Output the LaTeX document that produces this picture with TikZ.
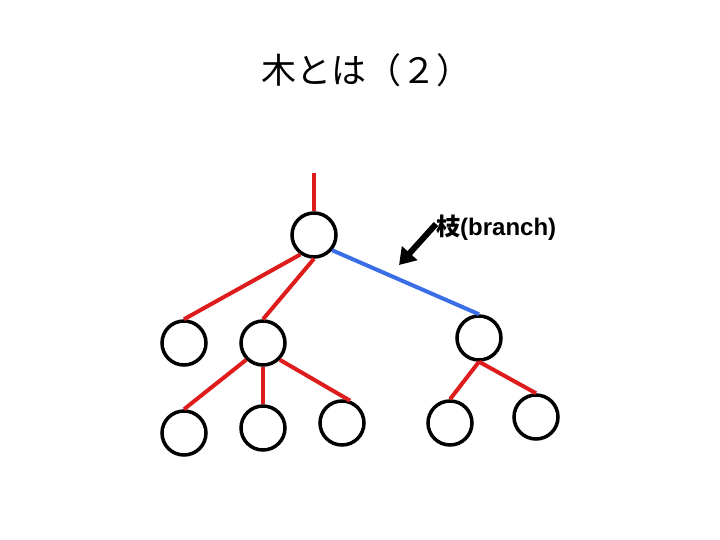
\documentclass[tikz,border=0pt]{standalone}
\usepackage{fontspec}
\setmainfont{Liberation Sans}
\newfontfamily\jpfont{Noto Sans CJK JP}
\usetikzlibrary{arrows.meta}
\definecolor{edgered}{RGB}{222,28,28}
\definecolor{edgeblue}{RGB}{58,110,230}
\tikzset{
  vert/.style={circle,draw=black,line width=3.5pt,minimum size=44pt,inner sep=0pt},
  edge/.style={draw=edgered,line width=4pt},
  blueedge/.style={draw=edgeblue,line width=4pt}
}
\begin{document}
\begin{tikzpicture}[x=1pt,y=-1pt]
\useasboundingbox (0,0) rectangle (720,540);
\node (title) at (366,70) {\jpfont\fontsize{35}{40}\selectfont 木とは（２）};
\node[vert] (root) at (314,235) {};
\node[vert] (a) at (184,343) {};
\node[vert] (b) at (263,343) {};
\node[vert] (c) at (479,338) {};
\node[vert] (d) at (184,433) {};
\node[vert] (e) at (263,428) {};
\node[vert] (f) at (342,423) {};
\node[vert] (g) at (450,423) {};
\node[vert] (h) at (536,417) {};
\coordinate (top) at (314,173);
\draw[edge] (top) -- (root.north);
\draw[edge] (root.-125) -- (a.north);
\draw[edge] (root.south) -- (b.north);
\draw[blueedge] (root.-40) -- (c.north);
\draw[edge] (b.-135) -- (d.north);
\draw[edge] (b.south) -- (e.north);
\draw[edge] (b.-45) -- (f.70);
\draw[edge] (c.south) -- (g.north);
\draw[edge] (c.south) -- (h.north);
\node[anchor=west,font=\bfseries\fontsize{24}{28}\selectfont,inner sep=0pt] (lbl) at (436,228) {{\jpfont 枝}(branch)};
\coordinate (tip) at (399,265);
\draw[line width=6pt,-{Triangle[length=16pt,width=20pt]}] ([yshift=4pt]lbl.west) -- (tip);
\end{tikzpicture}
\end{document}
